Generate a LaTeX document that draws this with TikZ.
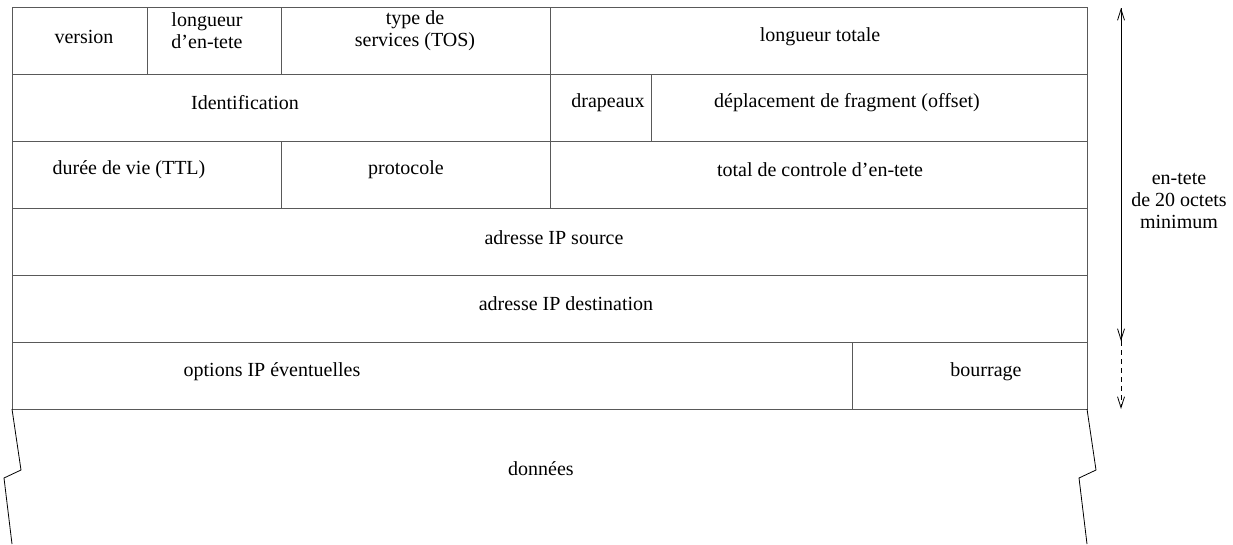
\documentclass[tikz,border=0pt]{standalone}
\usepackage{fontspec}
\setmainfont{Liberation Serif}
\usepackage{tikz}
\usetikzlibrary{arrows.meta, positioning}

\begin{document}
\begin{tikzpicture}[x=1pt, y=-1pt,
  cell/.style={rectangle, draw=black!65, line width=0.9pt, minimum height=67pt, inner sep=0pt, outer sep=0pt},
  txt/.style={inner sep=0pt, align=center, font=\fontsize{20}{22}\selectfont},
  barb/.style={-{Straight Barb[length=11pt, width=7pt]}, line width=0.8pt}]
\useasboundingbox (0,0) rectangle (1233,544);

% row 1
\node[cell, minimum width=135pt, anchor=north west] (version) at (12,7) {};
\node[cell, minimum width=134pt, right=0pt of version] (ihl) {};
\node[cell, minimum width=269pt, right=0pt of ihl] (tos) {};
\node[cell, minimum width=537pt, right=0pt of tos] (totlen) {};

% row 2
\node[cell, minimum width=538pt, anchor=north west] (ident) at (version.south west) {};
\node[cell, minimum width=101pt, right=0pt of ident] (flags) {};
\node[cell, minimum width=436pt, right=0pt of flags] (offset) {};

% row 3
\node[cell, minimum width=269pt, anchor=north west] (ttl) at (ident.south west) {};
\node[cell, minimum width=269pt, right=0pt of ttl] (proto) {};
\node[cell, minimum width=537pt, right=0pt of proto] (chksum) {};

% rows 4 and 5
\node[cell, minimum width=1075pt, anchor=north west] (src) at (ttl.south west) {};
\node[cell, minimum width=1075pt, anchor=north west] (dst) at (src.south west) {};

% row 6
\node[cell, minimum width=840pt, anchor=north west] (opts) at (dst.south west) {};
\node[cell, minimum width=235pt, right=0pt of opts] (pad) {};

% texts
\node[txt] (tversion) at (84,37) {version};
\node[txt] (tihl) at (207,31) {longueur\\d'en-tete};
\node[txt] (ttos) at (415,31) {type de\\services (TOS)};
\node[txt] (ttotlen) at (820,37) {longueur totale};
\node[txt] (tident) at (245,103) {Identification};
\node[txt] (tflags) at (608,103) {drapeaux};
\node[txt] (toffset) at (847,103) {déplacement de fragment (offset)};
\node[txt] (tttl) at (129,170) {durée de vie (TTL)};
\node[txt] (tproto) at (406,170) {protocole};
\node[txt] (tchksum) at (820,170) {total de controle d'en-tete};
\node[txt] (tsrc) at (554,238) {adresse IP source};
\node[txt] (tdst) at (566,304) {adresse IP destination};
\node[txt] (topts) at (272,372) {options IP éventuelles};
\node[txt] (tpad) at (986,372) {bourrage};
\node[txt] (tdata) at (541,469) {données};

% data, broken edges
\draw[line width=0.8pt] (opts.south west) -- (21,470) -- (4,478) -- (12,544);
\draw[line width=0.8pt] (pad.south east) -- (1096,470) -- (1079,478) -- (1087,544);

% header size
\coordinate (htop) at (1121,8);
\coordinate (hmin) at (1121,341);
\coordinate (hmax) at (1121,409);
\draw[barb] (hmin) -- (htop);
\draw[barb] (htop) -- (hmin);
\draw[barb, dashed, dash pattern=on 5pt off 4pt] (hmin) -- (hmax);
\node[txt] (theader) at (1179,201) {en-tete\\de 20 octets\\minimum};

\end{tikzpicture}
\end{document}
